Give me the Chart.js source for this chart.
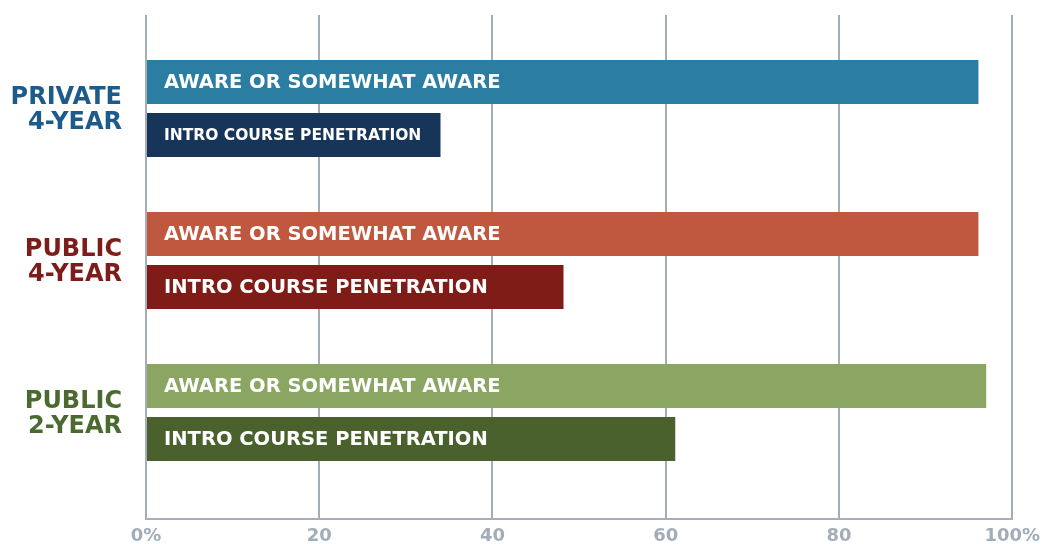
<!DOCTYPE html>
<html>
<head>
<meta charset="utf-8">
<script src="https://cdn.jsdelivr.net/npm/chart.js@4/dist/chart.umd.min.js"></script>
<style>
  html, body { margin: 0; padding: 0; background: #fff; }
  #wrap { width: 1047px; height: 544px; }
</style>
</head>
<body>
<div id="wrap"><canvas id="chart"></canvas></div>
<script>
// ---- data ----
const groups = [["PRIVATE", "4-YEAR"], ["PUBLIC", "4-YEAR"], ["PUBLIC", "2-YEAR"]];
const groupColors = ["#1d5b8b", "#7e1c19", "#4b6a2f"];

const awareLabel = "AWARE OR SOMEWHAT AWARE";
const introLabel = "INTRO COURSE PENETRATION";
const awareValues = [96.1, 96.1, 97.0];
const introValues = [34.0, 48.2, 61.1];
const awareColors = ["#2b7ea1", "#bf583f", "#8ba563"];
const introColors = ["#163558", "#7f1c18", "#4a612d"];

const xTicks = [0, 20, 40, 60, 80, 100];

// y range around the three groups (groups sit at 0, 1, 2)
const yMin = -0.615;
const yMax = 2.701;

// bar texts (the first intro label is set smaller in the original)
const introFontSizes = [15.5, 19.5, 19.5];

const barText = {
  id: "barText",
  afterDraw(chart) {
    const c = chart.ctx;
    c.save();
    c.fillStyle = "#ffffff";
    c.textAlign = "left";
    c.textBaseline = "middle";
    chart.data.datasets.forEach((ds, di) => {
      const meta = chart.getDatasetMeta(di);
      meta.data.forEach((bar, i) => {
        const size = di === 0 ? 19.5 : introFontSizes[i];
        c.font = "bold " + size + "px 'DejaVu Sans'";
        c.fillText(ds.label, bar.base + 17, bar.y + 1);
      });
    });
    c.restore();
  }
};

new Chart(document.getElementById("chart"), {
  type: "bar",
  data: {
    datasets: [
      {
        label: awareLabel,
        data: awareValues.map((v, i) => ({ x: v, y: i })),
        backgroundColor: awareColors
      },
      {
        label: introLabel,
        data: introValues.map((v, i) => ({ x: v, y: i })),
        backgroundColor: introColors
      }
    ]
  },
  options: {
    indexAxis: "y",
    responsive: true,
    maintainAspectRatio: false,
    animation: false,
    categoryPercentage: 0.697,
    barPercentage: 0.83,
    layout: { padding: { top: 15, right: 5, left: 0, bottom: 0 } },
    plugins: {
      legend: { display: false },
      tooltip: { enabled: false }
    },
    scales: {
      x: {
        type: "linear",
        min: 0,
        max: 100,
        z: 1,
        afterBuildTicks: s => { s.ticks = xTicks.map(v => ({ value: v })); },
        afterFit: s => { s.height = 25; },
        grid: {
          color: "rgba(105,120,136,0.6)",
          lineWidth: 2,
          drawTicks: false
        },
        border: { color: "#a7b0ba", width: 2 },
        ticks: {
          padding: 7,
          color: "#a3adb8",
          font: { family: "'DejaVu Sans'", weight: "bold", size: 18 },
          callback: v => (v === 0 || v === 100) ? v + "%" : v
        }
      },
      y: {
        type: "linear",
        reverse: true,
        offset: false,
        bounds: "data",
        min: yMin,
        max: yMax,
        afterBuildTicks: s => {
          s.ticks = groups.map((g, i) => ({ value: i }));
          s.min = yMin;
          s.max = yMax;
        },
        afterFit: s => {
          s.width = 146;
          s.paddingTop = 0;
          s.paddingBottom = 0;
        },
        grid: { display: false },
        border: { display: false },
        ticks: {
          padding: 16,
          labelOffset: 2,
          color: ctx => groupColors[ctx.index],
          font: { family: "'DejaVu Sans'", weight: "bold", size: 24, lineHeight: 1.05 },
          callback: (v) => groups[v]
        }
      }
    }
  },
  plugins: [barText]
});
</script>
</body>
</html>
